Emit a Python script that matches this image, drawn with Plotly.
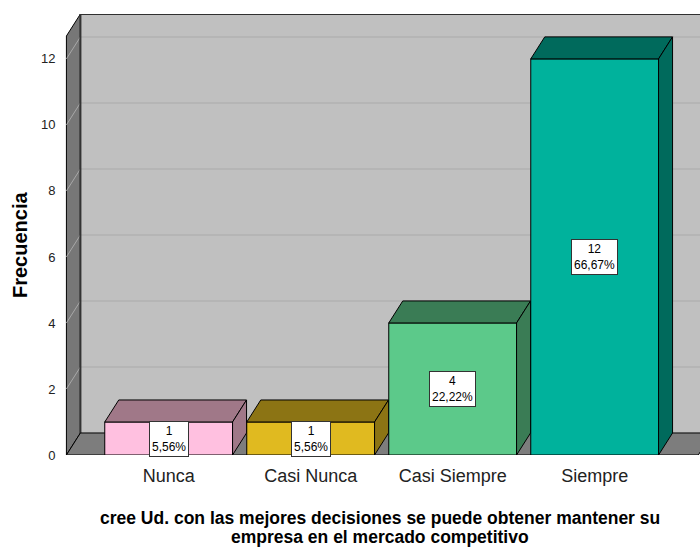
import plotly.graph_objects as go

categories = ["Nunca", "Casi Nunca", "Casi Siempre", "Siempre"]
counts = [1, 1, 4, 12]
percents = ["5,56%", "5,56%", "22,22%", "66,67%"]
y_ticks = [0, 2, 4, 6, 8, 10, 12]
x_title_lines = ["cree Ud. con las mejores decisiones se puede obtener mantener su",
                 "empresa en el mercado competitivo"]

front_colors = ["#FFC0E0", "#E0BA20", "#5CC98A", "#00B29C"]
side_colors = ["#A07888", "#8C7414", "#3A7C55", "#006A5C"]

# 3D depth offsets in data units
DX = 0.0986
DY = 0.667
HALF = 0.45
X0 = -0.72
X1 = 3.73
YMAX = 13.36 - DY

fig = go.Figure()

def poly(xs, ys, fill, line="black", width=1):
    fig.add_trace(go.Scatter(x=xs + [xs[0]], y=ys + [ys[0]], mode="lines", fill="toself",
                             fillcolor=fill, line=dict(color=line, width=width),
                             hoverinfo="skip", showlegend=False))

def seg(xs, ys, color, width=1):
    fig.add_trace(go.Scatter(x=xs, y=ys, mode="lines", line=dict(color=color, width=width),
                             hoverinfo="skip", showlegend=False))

# back wall
poly([X0 + DX, X1 + DX + 0.3, X1 + DX + 0.3, X0 + DX], [DY, DY, YMAX + DY, YMAX + DY], "#C0C0C0", line="#C0C0C0")
for t in y_ticks[1:]:
    seg([X0 + DX, X1 + DX + 0.3], [t + DY, t + DY], "#B2B2B2", 1.5)
seg([X0 + DX, X1 + DX + 0.3], [YMAX + DY, YMAX + DY], "black", 1.5)
# left wall
poly([X0, X0, X0 + DX, X0 + DX], [0, YMAX, YMAX + DY, DY], "#777777")
for t in y_ticks[1:]:
    seg([X0, X0 + DX], [t, t + DY], "#A8A8A8", 1)
seg([X0 + DX, X0 + DX], [DY, YMAX + DY], "#333333", 2)
# floor
poly([X0, X1, X1 + DX, X0 + DX], [0, 0, DY, DY], "#7D7D7D")

# bars
for i, v in enumerate(counts):
    l, r = i - HALF, i + HALF
    poly([l, r, r, l], [0, 0, v, v], front_colors[i])
    poly([l, l + DX, r + DX, r], [v, v + DY, v + DY, v], side_colors[i])
    poly([r, r + DX, r + DX, r], [0, DY, v + DY, v], side_colors[i])

for i, v in enumerate(counts):
    fig.add_annotation(x=i, y=v / 2, text=f"{v}<br>{percents[i]}", showarrow=False,
                       bgcolor="white", bordercolor="#333333", borderwidth=1, borderpad=2,
                       font=dict(family="Liberation Sans, Arial", size=12, color="black"))

fig.add_annotation(xref="paper", yref="paper", x=-0.071, y=0.476, text="<b>Frecuencia</b>",
                   textangle=-90, showarrow=False, xanchor="center", yanchor="middle",
                   font=dict(family="Liberation Sans, Arial", size=20, color="black"))
for k, line in enumerate(x_title_lines):
    fig.add_annotation(xref="paper", yref="paper", x=0.496, y=0, yshift=-63 - 19 * k,
                       text=f"<b>{line}</b>", showarrow=False, xanchor="center", yanchor="middle",
                       font=dict(family="Liberation Sans, Arial", size=17.5, color="black"))

fig.update_layout(
    width=700, height=547,
    margin=dict(l=65, r=0, t=14, b=92),
    paper_bgcolor="white", plot_bgcolor="white",
    xaxis=dict(range=[-0.73, -0.73 + 635 / 142], tickvals=list(range(len(categories))),
               ticktext=categories, showgrid=False, zeroline=False, showline=False,
               ticks="outside", ticklen=4, tickcolor="rgba(0,0,0,0)", automargin=False,
               tickfont=dict(family="Liberation Sans, Arial", size=18, color="#222222")),
    yaxis=dict(range=[0, 13.36], tickvals=y_ticks, showgrid=False, zeroline=False, showline=False,
               ticks="outside", ticklen=6, tickcolor="rgba(0,0,0,0)", automargin=False,
               tickfont=dict(family="Liberation Sans, Arial", size=13, color="#222222")),
)

fig.write_html("out.html", config={"displayModeBar": False},
               post_script="document.body.style.margin='0';document.body.style.overflow='hidden';")
